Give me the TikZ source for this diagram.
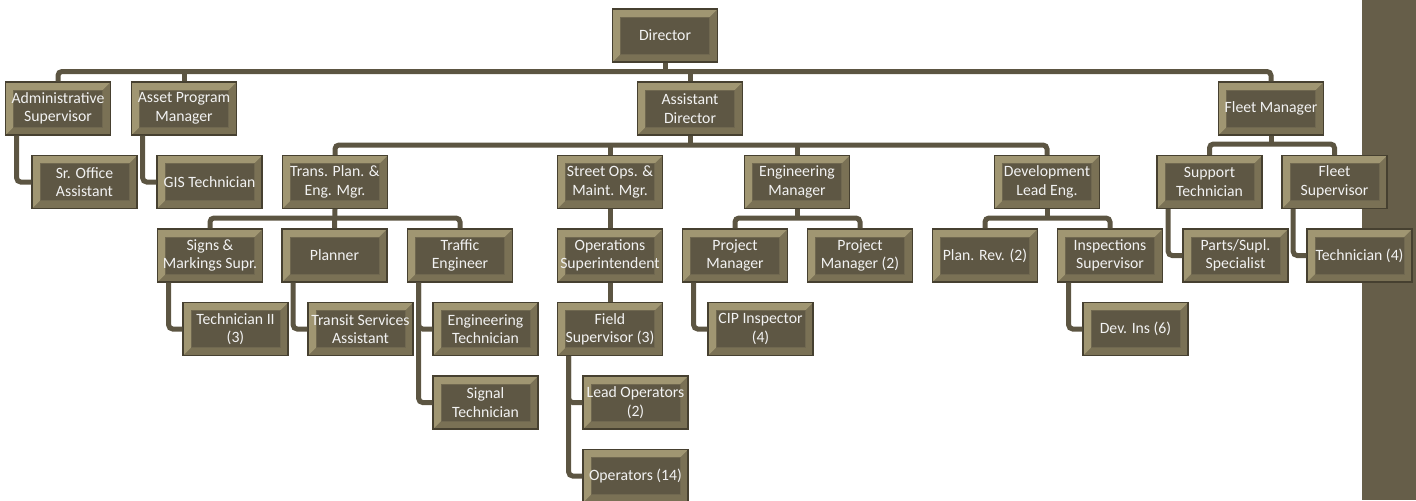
\documentclass[tikz,border=0pt]{standalone}
\usepackage{fontspec}
\setmainfont{Carlito}
\usepackage{tikz}
\usetikzlibrary{calc}

\definecolor{orgdark}{RGB}{94,87,68}
\definecolor{orgline}{RGB}{92,85,66}
\definecolor{orgband}{RGB}{102,94,73}
\definecolor{orgedge}{RGB}{70,64,48}
\definecolor{bevlight}{RGB}{160,150,114}
\definecolor{bevdark}{RGB}{122,113,85}
\definecolor{bevrim}{RGB}{112,104,80}
\definecolor{boxtext}{RGB}{242,242,242}

\begin{document}
\begin{tikzpicture}[x=0.75pt,y=0.75pt,yscale=-1,xscale=1,
    orgbox/.style={draw=orgedge, line width=0.9pt, fill=bevdark,
        minimum width=78.75pt, minimum height=39.75pt, inner sep=0pt,
        align=center, text=boxtext, font=\fontsize{11.8}{13.8}\selectfont,
        path picture={
            \coordinate (bbsw) at (path picture bounding box.south west);
            \coordinate (bbne) at (path picture bounding box.north east);
            \coordinate (bbnw) at (bbsw |- bbne);
            \coordinate (bbse) at (bbne |- bbsw);
            \coordinate (q1) at ($(bbsw)!6pt!(bbse)$);
            \coordinate (q2) at ($(bbsw)!6pt!(bbnw)$);
            \coordinate (q3) at ($(bbne)!6pt!(bbnw)$);
            \coordinate (q4) at ($(bbne)!6pt!(bbse)$);
            \coordinate (isw) at (q1 |- q2);
            \coordinate (ine) at (q3 |- q4);
            \fill[bevlight] (bbsw) -- (bbnw) -- (bbne) -- (ine) -- (isw |- ine) -- (isw) -- cycle;
            \draw[bevrim, line width=0.6pt, fill=orgdark] (isw) rectangle (ine);
        }},
    link/.style={draw=orgline, line width=3.75pt, rounded corners=3pt}]

        \useasboundingbox (0,0) rectangle (1416,500);
        %Shape: side band
        \fill [orgband] (1362,0) rectangle (1416,500);

        % Level 0 and 1
        \node [orgbox] (dir) at (665,35.5) {Director};
        \node [orgbox] (adm) at (58,108.5) {Administrative\\Supervisor};
        \node [orgbox] (asset) at (184,108.5) {Asset Program\\Manager};
        \node [orgbox] (ast) at (690,108.5) {Assistant\\Director};
        \node [orgbox] (fleet) at (1271,108.5) {Fleet Manager};

        % Level 2
        \node [orgbox] (sroff) at (84.5,182) {Sr. Office\\Assistant};
        \node [orgbox] (gis) at (209.5,182) {GIS Technician};
        \node [orgbox] (trans) at (335,182) {Trans. Plan. \&\\Eng. Mgr.};
        \node [orgbox] (street) at (610,182) {Street Ops. \&\\Maint. Mgr.};
        \node [orgbox] (eng) at (797,182) {Engineering\\Manager};
        \node [orgbox] (dev) at (1047,182) {Development\\Lead Eng.};
        \node [orgbox] (suptech) at (1209.5,182) {Support\\Technician};
        \node [orgbox] (fleetsup) at (1334.5,182) {Fleet\\Supervisor};

        % Level 3
        \node [orgbox] (signs) at (210,255.5) {Signs \&\\Markings Supr.};
        \node [orgbox] (planner) at (334.5,255.5) {Planner};
        \node [orgbox] (traffic) at (460,255.5) {Traffic\\Engineer};
        \node [orgbox] (opsup) at (610,255.5) {Operations\\Superintendent};
        \node [orgbox] (pm) at (735,255.5) {Project\\Manager};
        \node [orgbox] (pmtwo) at (860,255.5) {Project\\Manager (2)};
        \node [orgbox] (planrev) at (985,255.5) {Plan. Rev. (2)};
        \node [orgbox] (insp) at (1110,255.5) {Inspections\\Supervisor};
        \node [orgbox] (parts) at (1235.5,255.5) {Parts/Supl.\\Specialist};
        \node [orgbox] (techfour) at (1359.5,255.5) {Technician (4)};

        % Level 4
        \node [orgbox] (techtwo) at (235.5,329) {Technician II\\(3)};
        \node [orgbox] (transit) at (360.5,329) {Transit Services\\Assistant};
        \node [orgbox] (engtech) at (485.5,329) {Engineering\\Technician};
        \node [orgbox] (field) at (610,329) {Field\\Supervisor (3)};
        \node [orgbox] (cip) at (760.5,329) {CIP Inspector\\(4)};
        \node [orgbox] (devins) at (1135.5,329) {Dev. Ins (6)};

        % Level 5 and 6
        \node [orgbox] (sigtech) at (485.5,402.5) {Signal\\Technician};
        \node [orgbox] (leadops) at (635.5,402.5) {Lead Operators\\(2)};
        \node [orgbox] (ops) at (635.5,476) {Operators (14)};

        % Buses
        \coordinate (topbus) at (665,71.5);
        \coordinate (astbus) at (690,145);
        \coordinate (fleetbus) at (1271,144);
        \coordinate (transbus) at (335,218);
        \coordinate (engbus) at (797,218);
        \coordinate (devbus) at (1047,218);

        \draw [link] (adm.north) |- (topbus) -| (fleet.north);
        \draw [link] (dir.south) -- (topbus);
        \draw [link] (asset.north |- topbus) -- (asset.north);
        \draw [link] (ast.north |- topbus) -- (ast.north);

        \draw [link] (trans.north) |- (astbus) -| (dev.north);
        \draw [link] (ast.south) -- (astbus);
        \draw [link] (street.north |- astbus) -- (street.north);
        \draw [link] (eng.north |- astbus) -- (eng.north);

        \draw [link] (suptech.north) |- (fleetbus) -| (fleetsup.north);
        \draw [link] (fleet.south) -- (fleetbus);

        \draw [link] (signs.north) |- (transbus) -| (traffic.north);
        \draw [link] (trans.south) -- (planner.north);
        \draw [link] (pm.north) |- (engbus) -| (pmtwo.north);
        \draw [link] (eng.south) -- (engbus);
        \draw [link] (planrev.north) |- (devbus) -| (insp.north);
        \draw [link] (dev.south) -- (devbus);

        \draw [link] (street.south) -- (opsup.north);
        \draw [link] (opsup.south) -- (field.north);

        % Side connectors
        \draw [link] ([xshift=-31pt]adm.south) |- (sroff.west);
        \draw [link] ([xshift=-31pt]asset.south) |- (gis.west);
        \draw [link] ([xshift=-31pt]signs.south) |- (techtwo.west);
        \draw [link] ([xshift=-31pt]planner.south) |- (transit.west);
        \draw [link] ([xshift=-31pt]traffic.south) |- (engtech.west);
        \draw [link] ([xshift=-31pt]traffic.south) |- (sigtech.west);
        \draw [link] ([xshift=-31pt]field.south) |- (leadops.west);
        \draw [link] ([xshift=-31pt]field.south) |- (ops.west);
        \draw [link] ([xshift=-31pt]pm.south) |- (cip.west);
        \draw [link] ([xshift=-31pt]insp.south) |- (devins.west);
        \draw [link] ([xshift=-31pt]suptech.south) |- (parts.west);
        \draw [link] ([xshift=-31pt]fleetsup.south) |- (techfour.west);

\end{tikzpicture}
\end{document}
